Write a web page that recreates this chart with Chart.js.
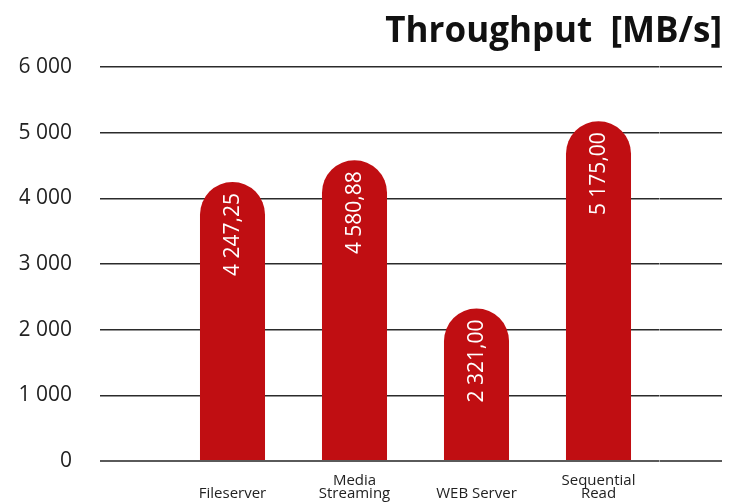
<!DOCTYPE html>
<html>
<head>
<meta charset="utf-8">
<script src="https://cdn.jsdelivr.net/npm/chart.js@4/dist/chart.umd.min.js"></script>
<style>
html,body{margin:0;padding:0;background:#fff;}
canvas{display:block;}
</style>
</head>
<body>
<canvas id="chart" width="735" height="503"></canvas>
<script>
// data
const categories = [["Fileserver"], ["Media", "Streaming"], ["WEB Server"], ["Sequential", "Read"]]
const throughput = [4247.25, 4580.88, 2321.00, 5175.00]
const yMin = 0
const yMax = 6000
const yStep = 1000

const barColor = "#c00e12"

// "4 247,25" style numbers
function fmt(v, dec){
const parts = v.toFixed(dec).split(".")
const whole = parts[0].replace(/\B(?=(\d{3})+(?!\d))/g, " ")
return parts[1] ? whole + "," + parts[1] : whole
}

const gridColor = ctx => (ctx.tick && ctx.tick.value === 0) ? "#5a5a5a" : "#2b2b2b"
const gridWidth = ctx => (ctx.tick && ctx.tick.value === 0) ? 2 : 1.5

// values written upward inside the bars
const barLabels = {
id: "barLabels",
afterDatasetsDraw(chart){
const ctx = chart.ctx
const meta = chart.getDatasetMeta(0)
ctx.save()
ctx.fillStyle = "#ffffff"
ctx.font = '21px "Open Sans"'
ctx.textAlign = "right"
ctx.textBaseline = "middle"
meta.data.forEach((bar, i) => {
ctx.save()
ctx.translate(bar.x + 1, bar.y + 11)
ctx.rotate(-Math.PI / 2)
ctx.fillText(fmt(throughput[i], 2), 0, 0)
ctx.restore()
})
ctx.restore()
}
}

function draw(){
new Chart(document.getElementById("chart").getContext("2d"), {
type: "bar",
data: {
labels: categories,
datasets: [{
data: throughput,
backgroundColor: barColor,
borderRadius: { topLeft: 40, topRight: 40 },
borderSkipped: "bottom",
categoryPercentage: 1,
barPercentage: 0.533
}]
},
options: {
responsive: false,
devicePixelRatio: 1,
animation: false,
layout: { padding: { left: 19.5, right: 13, top: 0, bottom: 0 } },
plugins: {
legend: { display: false },
tooltip: { enabled: false },
title: {
display: true,
text: "Throughput  [MB/s]",
align: "end",
color: "#111",
font: { family: "Open Sans", size: 35, weight: "bold" },
padding: { top: 11, bottom: 14 }
}
},
scales: {
x: {
grid: { display: false },
border: { display: false },
ticks: {
color: "#222",
font: { family: "Open Sans", size: 15, lineHeight: 0.88 },
padding: 12,
crossAlign: "far",
maxRotation: 0,
autoSkip: false
},
afterFit: s => { s.height = 42 }
},
y: {
position: "left",
min: yMin,
max: yMax,
border: { display: false },
grid: { color: gridColor, lineWidth: gridWidth, tickLength: 71.5 },
ticks: {
stepSize: yStep,
padding: 28,
color: "#222",
font: { family: "Open Sans", size: 21 },
callback: v => fmt(v, 0)
},
afterFit: s => { s.width = 152 }
},
yRight: {
position: "right",
min: yMin,
max: yMax,
border: { display: false },
grid: { drawOnChartArea: false, color: gridColor, lineWidth: gridWidth, tickLength: 62.5 },
ticks: { stepSize: yStep, display: false }
}
}
},
plugins: [barLabels]
})
}

Promise.all([
document.fonts.load('bold 35px "Open Sans"'),
document.fonts.load('21px "Open Sans"'),
document.fonts.load('15px "Open Sans"')
]).then(draw, draw)
</script>
</body>
</html>
